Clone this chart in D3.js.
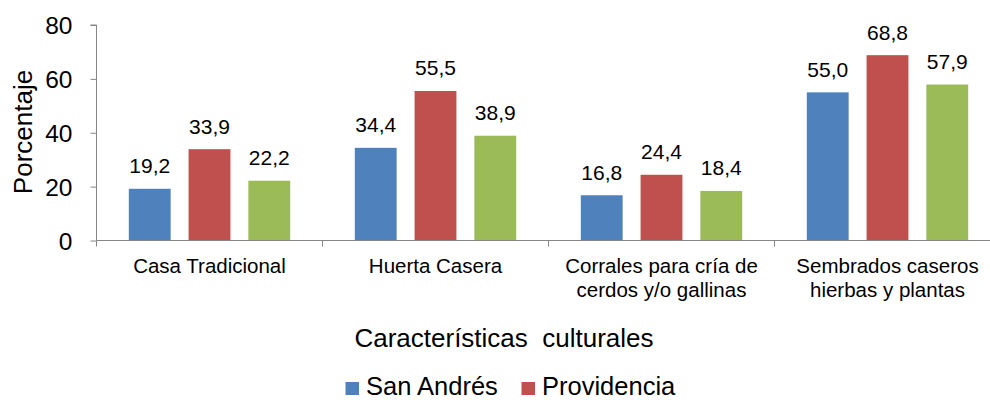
<!DOCTYPE html>
<html>
<head>
<meta charset="utf-8">
<script src="https://cdn.jsdelivr.net/npm/d3@7"></script>
<style>
  html, body { margin: 0; padding: 0; background: #fff; }
  svg { display: block; font-family: Arial, "Liberation Sans", sans-serif; }
</style>
</head>
<body>
<svg id="chart" width="990" height="400"></svg>
<script>
const categories = [
  ["Casa Tradicional"],
  ["Huerta Casera"],
  ["Corrales para cría de", "cerdos y/o gallinas"],
  ["Sembrados caseros", "hierbas y plantas"]
];
const seriesNames = ["San Andrés", "Providencia", "Santa Catalina"];
const sanAndres = [19.2, 34.4, 16.8, 55.0];
const providencia = [33.9, 55.5, 24.4, 68.8];
const tercera = [22.2, 38.9, 18.4, 57.9];
const yTicks = [0, 20, 40, 60, 80];
const colors = ["#4F81BD", "#C0504D", "#9BBB59"];
const legendShown = ["San Andrés", "Providencia"];

const seriesValues = [sanAndres, providencia, tercera];
const catKeys = categories.map((c, i) => i);

const svg = d3.select("#chart");
const axisColor = "#868686";

const x0 = d3.scaleBand().domain(catKeys).range([96.5, 1000.5]).paddingInner(0).paddingOuter(0);
const groupPad = 32.3;
const x1 = d3.scaleBand().domain(d3.range(seriesNames.length))
  .range([groupPad, x0.bandwidth() - groupPad]).paddingInner(0.3).paddingOuter(0);
const y = d3.scaleLinear().domain([0, 80]).range([240.5, 25]);

const fmt = v => d3.format(".1f")(v).replace(".", ",");

// bars
const groups = svg.append("g").selectAll("g").data(catKeys).join("g")
  .attr("transform", d => `translate(${x0(d)},0)`);
groups.selectAll("rect")
  .data(ci => seriesValues.map((vals, si) => ({si, v: vals[ci]})))
  .join("rect")
  .attr("x", d => x1(d.si))
  .attr("width", x1.bandwidth())
  .attr("y", d => y(d.v))
  .attr("height", d => y(0) - y(d.v))
  .attr("fill", d => colors[d.si]);

// value labels
groups.selectAll("text.val")
  .data(ci => seriesValues.map((vals, si) => ({si, v: vals[ci]})))
  .join("text")
  .attr("class", "val")
  .attr("x", d => x1(d.si) + x1.bandwidth() / 2)
  .attr("y", d => y(d.v) - 15.5)
  .attr("text-anchor", "middle")
  .attr("font-size", 21)
  .attr("fill", "#000")
  .text(d => fmt(d.v));

// y axis
const yAxis = svg.append("g").attr("transform", "translate(96.5,0)")
  .call(d3.axisLeft(y).tickValues(yTicks).tickSize(6).tickPadding(18).tickFormat(d3.format("d")));
yAxis.select(".domain").attr("stroke", axisColor).attr("d", `M-6,${y(80)}H0V${y(0)}`);
yAxis.selectAll(".tick line").attr("stroke", axisColor);
yAxis.selectAll(".tick text").attr("font-size", 24.5).attr("fill", "#000")
  .attr("font-family", "Arial, 'Liberation Sans', sans-serif").attr("dy", "0.35em");

// x axis
svg.append("line").attr("x1", 96.5).attr("x2", 990).attr("y1", y(0)).attr("y2", y(0))
  .attr("stroke", axisColor).attr("stroke-width", 1);
svg.append("g").selectAll("line").data(catKeys).join("line")
  .attr("x1", d => x0(d)).attr("x2", d => x0(d))
  .attr("y1", y(0)).attr("y2", y(0) + 6)
  .attr("stroke", axisColor);

// category labels
const catLabels = svg.append("g").selectAll("text").data(catKeys).join("text")
  .attr("x", d => x0(d) + x0.bandwidth() / 2)
  .attr("y", 273)
  .attr("text-anchor", "middle")
  .attr("font-size", 20.5)
  .attr("fill", "#000");
catLabels.selectAll("tspan").data(d => categories[d]).join("tspan")
  .attr("x", function() { return this.parentNode.getAttribute("x"); })
  .attr("dy", (d, i) => i === 0 ? 0 : 23.5)
  .text(d => d);

// axis titles
svg.append("text").attr("transform", "translate(32,132) rotate(-90)")
  .attr("text-anchor", "middle").attr("font-size", 26).attr("fill", "#000")
  .text("Porcentaje");
svg.append("text").attr("x", 504).attr("y", 347)
  .attr("text-anchor", "middle").attr("font-size", 26).attr("fill", "#000")
  .attr("xml:space", "preserve").style("white-space", "pre")
  .text("Características  culturales");

// legend
const legendX = [345.5, 521.5];
const lg = svg.append("g").selectAll("g").data(legendShown).join("g")
  .attr("transform", (d, i) => `translate(${legendX[i]},0)`);
lg.append("rect").attr("x", 0).attr("y", 382).attr("width", 13.5).attr("height", 13)
  .attr("fill", (d, i) => colors[i]);
lg.append("text").attr("x", 20.5).attr("y", 394.5).attr("font-size", 25.5).attr("fill", "#000")
  .text(d => d);
</script>
</body>
</html>
